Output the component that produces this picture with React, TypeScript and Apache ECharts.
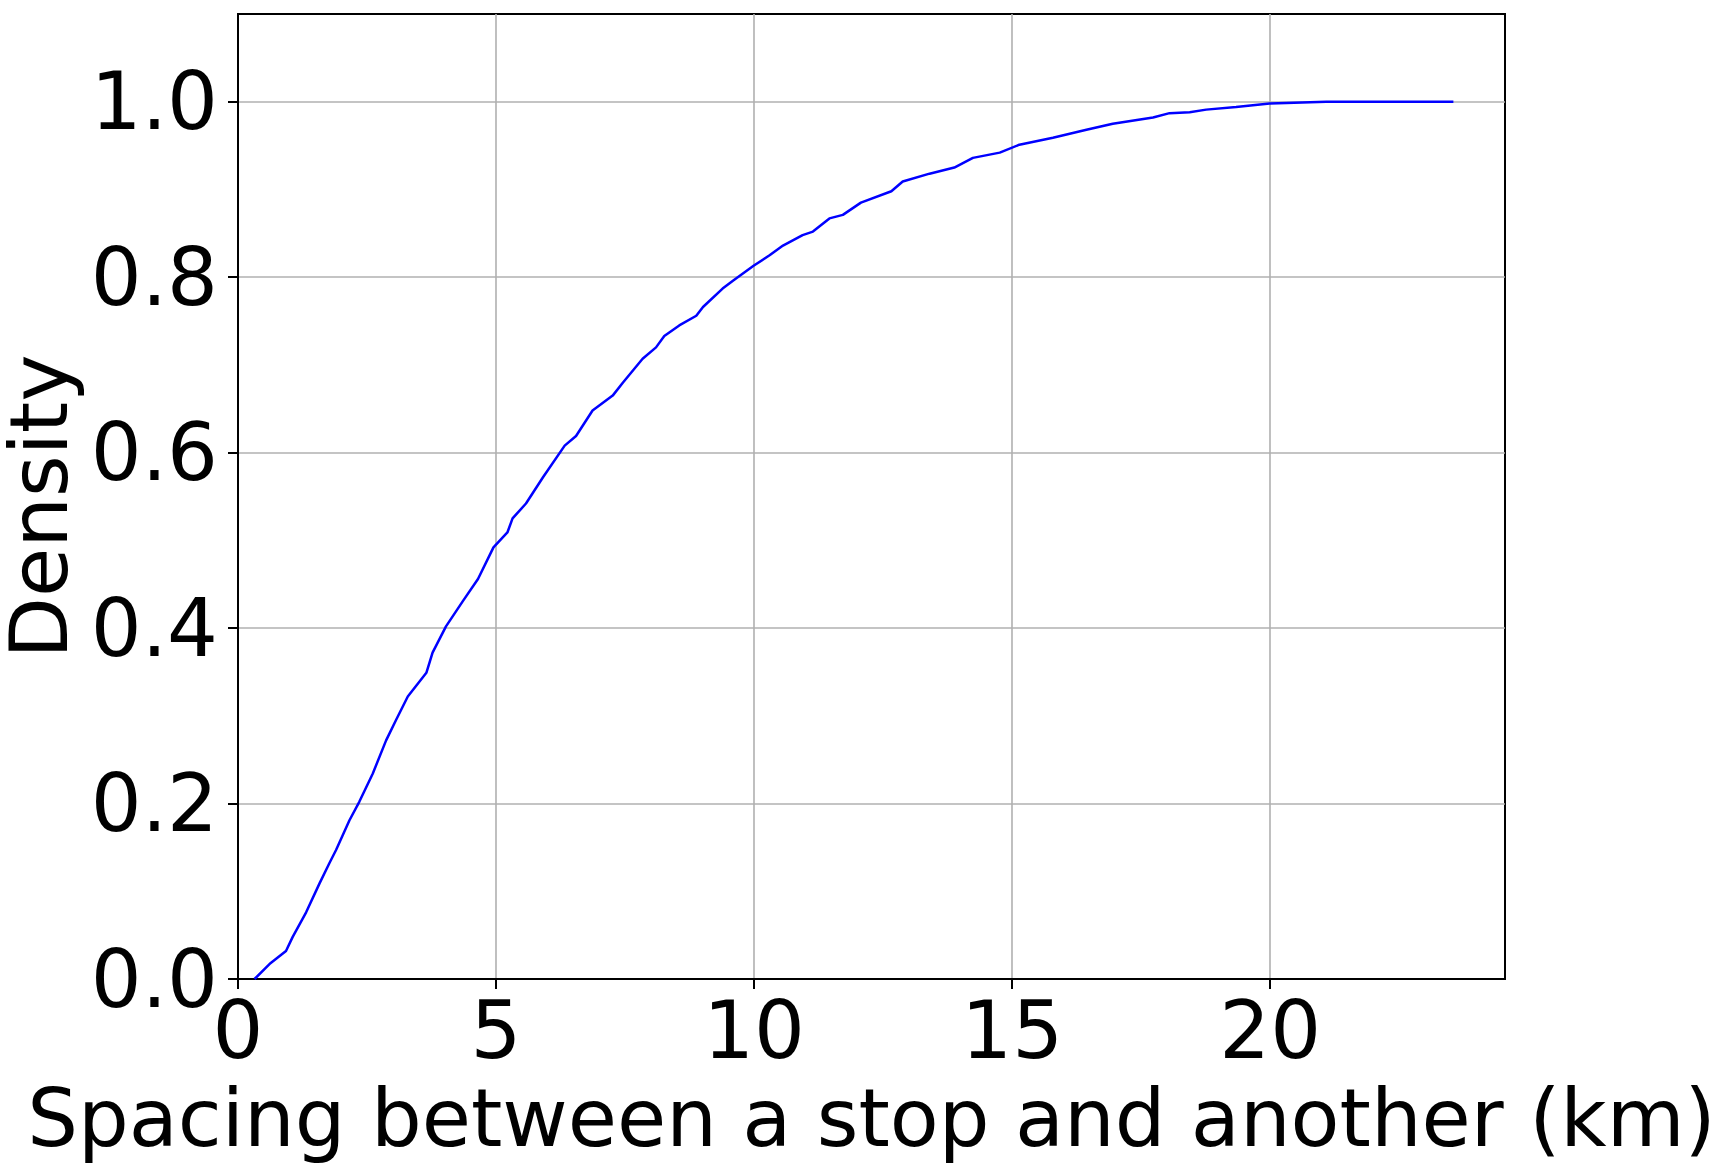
import React, { useEffect, useRef } from "react";
import * as echarts from "echarts";

const spacingKm = [
  0.32, 0.61, 0.93, 1.06, 1.32, 1.58, 1.77, 1.9, 2.16, 2.35, 2.61, 2.87, 3.06, 3.29, 3.65, 3.77,
  4.03, 4.36, 4.65, 4.95, 5.22, 5.32, 5.58, 5.91, 6.33, 6.55, 6.87, 7.26, 7.46, 7.84, 8.1, 8.26,
  8.55, 8.88, 9.01, 9.39, 9.59, 9.99, 10.3, 10.56, 10.94, 11.14, 11.46, 11.72, 12.07, 12.66, 12.88,
  13.4, 13.88, 14.24, 14.76, 15.14, 15.79, 16.44, 16.95, 17.73, 18.05, 18.44, 18.76, 19.34, 19.99,
  21.09, 23.55,
];
const cumulativeDensity = [
  0, 0.017, 0.032, 0.048, 0.076, 0.109, 0.132, 0.147, 0.181, 0.202, 0.234, 0.272, 0.295, 0.322,
  0.349, 0.372, 0.402, 0.431, 0.456, 0.492, 0.509, 0.525, 0.542, 0.572, 0.608, 0.619, 0.648, 0.665,
  0.68, 0.707, 0.72, 0.733, 0.745, 0.756, 0.766, 0.787, 0.796, 0.813, 0.825, 0.836, 0.848, 0.852,
  0.867, 0.871, 0.885, 0.898, 0.909, 0.918, 0.925, 0.936, 0.942, 0.951, 0.959, 0.968, 0.975, 0.982,
  0.987, 0.988, 0.991, 0.994, 0.998, 1.0, 1.0,
];
const xTicks = [0, 5, 10, 15, 20];
const yTicks = [0, 0.2, 0.4, 0.6, 0.8, 1.0];
const xLabel = "Spacing between a stop and another (km)";
const yLabel = "Density";

const FONT = "DejaVu Sans";

export default function App() {
  const ref = useRef<HTMLDivElement>(null);
  useEffect(() => {
    const chart = echarts.init(ref.current!, null, { renderer: "svg" });
    const data = spacingKm.map((x, i) => [x, cumulativeDensity[i]]);
    chart.setOption({
      animation: false,
      backgroundColor: "#ffffff",
      grid: {
        left: 238,
        right: 211,
        top: 14,
        bottom: 193,
        show: true,
        borderColor: "#000000",
        borderWidth: 2,
        backgroundColor: "transparent",
        containLabel: false,
        outerBoundsMode: "none",
      },
      xAxis: {
        type: "value",
        min: 0,
        max: 24.55,
        interval: 5,
        name: xLabel,
        nameLocation: "middle",
        nameGap: 99,
        nameTextStyle: { fontFamily: FONT, fontSize: 80, color: "#000" },
        axisLine: { show: true, onZero: false, lineStyle: { color: "#000", width: 2 } },
        axisTick: { show: true, length: 10, customValues: xTicks, lineStyle: { color: "#000", width: 2 } },
        axisLabel: {
          customValues: xTicks,
          fontFamily: FONT,
          fontSize: 80,
          color: "#000",
          margin: 11,
          formatter: (v: number) => (xTicks.includes(v) ? String(v) : ""),
        },
        splitLine: { show: true, lineStyle: { color: "#b0b0b0", width: 1.6 } },
      },
      yAxis: {
        type: "value",
        min: 0,
        max: 1.1,
        interval: 0.2,
        name: yLabel,
        nameLocation: "middle",
        nameGap: 153,
        nameTextStyle: { fontFamily: FONT, fontSize: 80, color: "#000", padding: [0, 20, 0, 0] },
        axisLine: { show: true, onZero: false, lineStyle: { color: "#000", width: 2 } },
        axisTick: { show: true, length: 10, customValues: yTicks, lineStyle: { color: "#000", width: 2 } },
        axisLabel: {
          customValues: yTicks,
          fontFamily: FONT,
          fontSize: 80,
          color: "#000",
          margin: 20,
          formatter: (v: number) => v.toFixed(1),
        },
        splitLine: { show: true, lineStyle: { color: "#b0b0b0", width: 1.6 } },
      },
      series: [
        {
          type: "line",
          data,
          showSymbol: false,
          symbol: "none",
          lineStyle: { color: "#0000ff", width: 2.5 },
          itemStyle: { color: "#0000ff" },
          z: 3,
        },
      ],
    });
    return () => chart.dispose();
  }, []);
  return (
    <div
      ref={ref}
      style={{ position: "fixed", left: 0, top: 0, width: 1716, height: 1172, background: "#fff" }}
    />
  );
}
